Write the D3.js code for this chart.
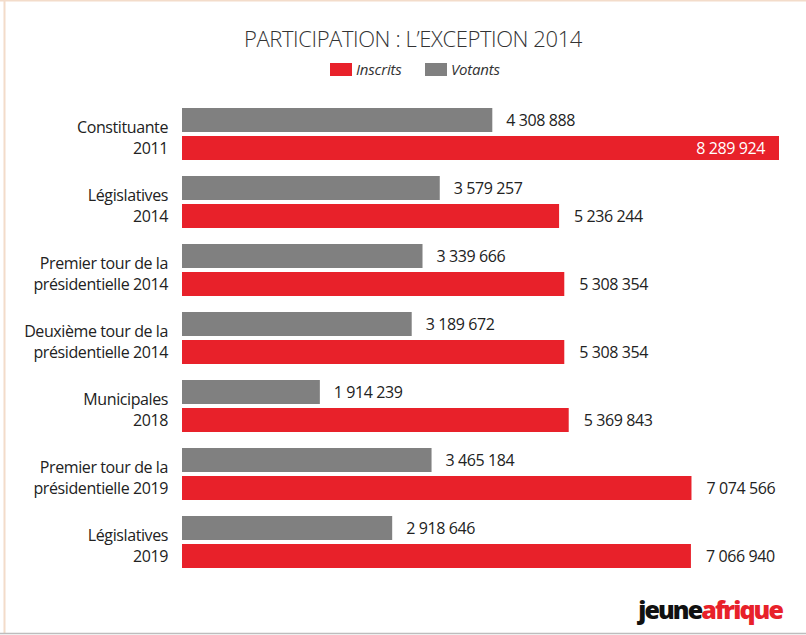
<!DOCTYPE html>
<html>
<head>
<meta charset="utf-8">
<script src="https://cdn.jsdelivr.net/npm/d3@7"></script>
<style>
  html, body { margin: 0; padding: 0; background: #fff; }
  svg { display: block; font-family: "Open Sans", "Noto Sans", sans-serif; }
</style>
</head>
<body>
<svg id="chart" width="806" height="635"></svg>
<script>
// Élections tunisiennes : inscrits et votants
const categories = [
  ["Constituante", "2011"],
  ["Législatives", "2014"],
  ["Premier tour de la", "présidentielle 2014"],
  ["Deuxième tour de la", "présidentielle 2014"],
  ["Municipales", "2018"],
  ["Premier tour de la", "présidentielle 2019"],
  ["Législatives", "2019"]
];
const votants = [4308888, 3579257, 3339666, 3189672, 1914239, 3465184, 2918646];
const inscrits = [8289924, 5236244, 5308354, 5308354, 5369843, 7074566, 7066940];
const seriesNames = ["Inscrits", "Votants"];

const RED = "#e8212a", GREY = "#808080";
const fmt = v => d3.format(",")(v).replace(/,/g, " ");

const svg = d3.select("#chart");

// cadre
svg.append("line").attr("x1", 0).attr("x2", 806).attr("y1", 0.75).attr("y2", 0.75)
  .attr("stroke", "#f3dcca").attr("stroke-width", 1.5);
svg.append("line").attr("x1", 4.5).attr("x2", 4.5).attr("y1", 0).attr("y2", 633)
  .attr("stroke", "#f3dcca").attr("stroke-width", 2);
svg.append("line").attr("x1", 0).attr("x2", 806).attr("y1", 633.5).attr("y2", 633.5)
  .attr("stroke", "#bdbdbd").attr("stroke-width", 1.5);

// titre
svg.append("text").attr("x", 413).attr("y", 47).attr("text-anchor", "middle")
  .attr("font-size", 22).attr("fill", "#333").attr("font-weight", 300)
  .attr("letter-spacing", -0.4)
  .text("PARTICIPATION : L\u2019EXCEPTION 2014");

// légende
const legend = [
  { name: seriesNames[0], color: RED, x: 330 },
  { name: seriesNames[1], color: GREY, x: 425 }
];
legend.forEach(l => {
  svg.append("rect").attr("x", l.x).attr("y", 63).attr("width", 22).attr("height", 13).attr("fill", l.color);
  svg.append("text").attr("x", l.x + 26).attr("y", 75).attr("font-size", 15).attr("font-style", "italic")
    .attr("fill", "#333").attr("letter-spacing", -0.2).text(l.name);
});

// échelles
const x0 = 182;
const x = d3.scaleLinear().domain([0, d3.max(inscrits)]).range([x0, 779]);
const y = d3.scaleBand().domain(d3.range(categories.length)).range([100, 576]).paddingInner(0).paddingOuter(0);
const barH = 24, gap = 4;
const offset = (y.bandwidth() - (2 * barH + gap)) / 2;

const g = svg.append("g");
const groups = g.selectAll("g.cat").data(categories).join("g")
  .attr("transform", (d, i) => `translate(0,${y(i) + offset})`);

// barres votants
groups.append("rect").attr("x", x0).attr("y", 0).attr("height", barH)
  .attr("width", (d, i) => x(votants[i]) - x0).attr("fill", GREY);
// barres inscrits
groups.append("rect").attr("x", x0).attr("y", barH + gap).attr("height", barH)
  .attr("width", (d, i) => x(inscrits[i]) - x0).attr("fill", RED);

// valeurs
groups.append("text").attr("x", (d, i) => x(votants[i]) + 14).attr("y", barH / 2 + 6)
  .attr("font-size", 16).attr("fill", "#222").attr("letter-spacing", -0.4)
  .text((d, i) => fmt(votants[i]));
groups.append("text")
  .attr("x", (d, i) => i === 0 ? x(inscrits[i]) - 14 : x(inscrits[i]) + 15)
  .attr("text-anchor", (d, i) => i === 0 ? "end" : "start")
  .attr("y", barH + gap + barH / 2 + 6)
  .attr("font-size", 16).attr("letter-spacing", -0.4)
  .attr("fill", (d, i) => i === 0 ? "#fff" : "#222")
  .text((d, i) => fmt(inscrits[i]));

// libellés de catégorie
groups.append("text").attr("text-anchor", "end").attr("font-size", 16).attr("fill", "#222")
  .attr("letter-spacing", -0.4)
  .selectAll("tspan").data(d => d).join("tspan")
  .attr("x", 168).attr("y", (d, j) => j === 0 ? 25 : 46)
  .text(d => d);

// logo
const logo = svg.append("text").attr("x", 782).attr("y", 619).attr("text-anchor", "end")
  .attr("font-size", 25).attr("font-weight", 800).attr("letter-spacing", -1.9);
logo.append("tspan").attr("fill", "#111").text("jeune");
logo.append("tspan").attr("fill", RED).text("afrique");
</script>
</body>
</html>
